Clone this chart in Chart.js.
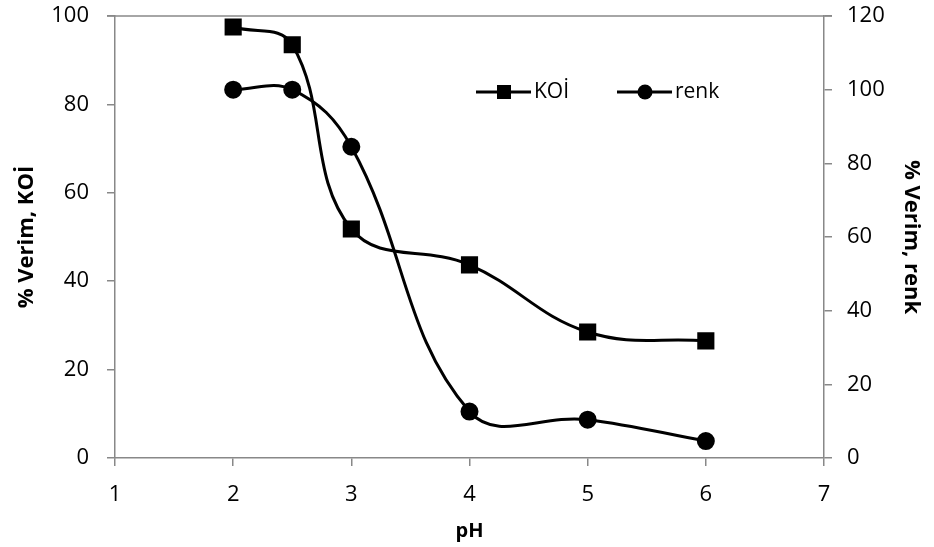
<!DOCTYPE html>
<html>
<head>
<meta charset="utf-8">
<script src="https://cdn.jsdelivr.net/npm/chart.js@4"></script>
<style>
html,body{margin:0;padding:0;background:#fff;}
#wrap{position:relative;width:934px;height:547px;}
</style>
</head>
<body>
<div id="wrap"><canvas id="c" width="934" height="547"></canvas></div>
<script>
const phValues = [2, 2.5, 3, 4, 5, 6];
const koiValues = [97.5, 93.5, 51.8, 43.7, 28.5, 26.5];
const renkValues = [100, 100, 84.5, 12.6, 10.4, 4.6];
const seriesNames = ['KOİ', 'renk'];
const xTitle = 'pH';
const yLeftTitle = '% Verim, KOİ';
const yRightTitle = '% Verim, renk';

const FONT = "'Open Sans', sans-serif";
const AXIS = '#888888';

const toPts = (xs, ys) => xs.map((x, i) => ({x: x, y: ys[i]}));

const topBorder = {
  id: 'topBorder',
  afterDraw(chart) {
    const {ctx, chartArea} = chart;
    ctx.save();
    ctx.strokeStyle = AXIS;
    ctx.lineWidth = 1.5;
    ctx.beginPath();
    ctx.moveTo(chartArea.left - 8, chartArea.top);
    ctx.lineTo(chartArea.right + 8, chartArea.top);
    ctx.stroke();
    ctx.restore();
  }
};

const legendPlugin = {
  id: 'customLegend',
  afterDraw(chart) {
    const {ctx} = chart;
    const y = 92;
    const items = [
      {x: 476, style: 'rect', label: seriesNames[0]},
      {x: 617, style: 'circle', label: seriesNames[1]}
    ];
    ctx.save();
    items.forEach(it => {
      ctx.strokeStyle = '#000';
      ctx.fillStyle = '#000';
      ctx.lineWidth = 3;
      ctx.beginPath();
      ctx.moveTo(it.x, y);
      ctx.lineTo(it.x + 55, y);
      ctx.stroke();
      const cx = it.x + 28;
      if (it.style === 'rect') {
        ctx.fillRect(cx - 7, y - 7, 14, 14);
      } else {
        ctx.beginPath();
        ctx.arc(cx, y, 7.5, 0, Math.PI * 2);
        ctx.fill();
      }
      ctx.font = '21px ' + FONT;
      ctx.textBaseline = 'middle';
      ctx.textAlign = 'left';
      ctx.fillText(it.label, it.x + 58, y);
    });
    ctx.restore();
  }
};

function fixV(w) {
  return function(s) { s.width = w; s.paddingTop = 0; s.paddingBottom = 0; };
}

new Chart(document.getElementById('c'), {
  type: 'line',
  data: {
    datasets: [
      {
        label: seriesNames[0],
        data: toPts(phValues, koiValues),
        yAxisID: 'y',
        borderColor: '#000',
        backgroundColor: '#000',
        borderWidth: 3,
        pointStyle: 'rect',
        pointRadius: 10,
        pointHoverRadius: 10,
        tension: 0.4,
        fill: false
      },
      {
        label: seriesNames[1],
        data: toPts(phValues, renkValues),
        yAxisID: 'y1',
        borderColor: '#000',
        backgroundColor: '#000',
        borderWidth: 3,
        pointStyle: 'circle',
        pointRadius: 7.5,
        pointHoverRadius: 7.5,
        tension: 0.4,
        fill: false
      }
    ]
  },
  options: {
    responsive: false,
    animation: false,
    layout: {padding: {top: 16, left: 0, right: 0, bottom: 0}},
    plugins: {legend: {display: false}, tooltip: {enabled: false}},
    scales: {
      x: {
        type: 'linear',
        min: 1, max: 7,
        ticks: {stepSize: 1, color: '#000', font: {family: FONT, size: 22}, padding: 16},
        grid: {drawOnChartArea: false, color: AXIS, tickLength: 8, lineWidth: 1.5},
        border: {color: AXIS, width: 1.5},
        title: {display: true, text: xTitle, color: '#000', font: {family: FONT, size: 20, weight: 'bold'}, padding: {top: 0}},
        afterFit(s) { s.height = 89; s.paddingLeft = 0; s.paddingRight = 0; }
      },
      y: {
        position: 'left',
        min: 0, max: 100,
        ticks: {stepSize: 20, color: '#000', font: {family: FONT, size: 22}, padding: 18},
        grid: {drawOnChartArea: false, color: AXIS, tickLength: 8, lineWidth: 1.5},
        border: {color: AXIS, width: 1.5},
        title: {display: true, text: yLeftTitle, color: '#000', font: {family: FONT, size: 22, weight: 'bold'}, padding: {top: 14}},
        afterFit: fixV(115)
      },
      y1: {
        position: 'right',
        min: 0, max: 120,
        ticks: {stepSize: 20, color: '#000', font: {family: FONT, size: 22}, padding: 15},
        grid: {drawOnChartArea: false, color: AXIS, tickLength: 8, lineWidth: 1.5},
        border: {color: AXIS, width: 1.5},
        title: {display: true, text: yRightTitle, color: '#000', font: {family: FONT, size: 22, weight: 'bold'}, padding: {top: 10}},
        afterFit: fixV(110)
      }
    }
  },
  plugins: [topBorder, legendPlugin]
});
</script>
</body>
</html>
